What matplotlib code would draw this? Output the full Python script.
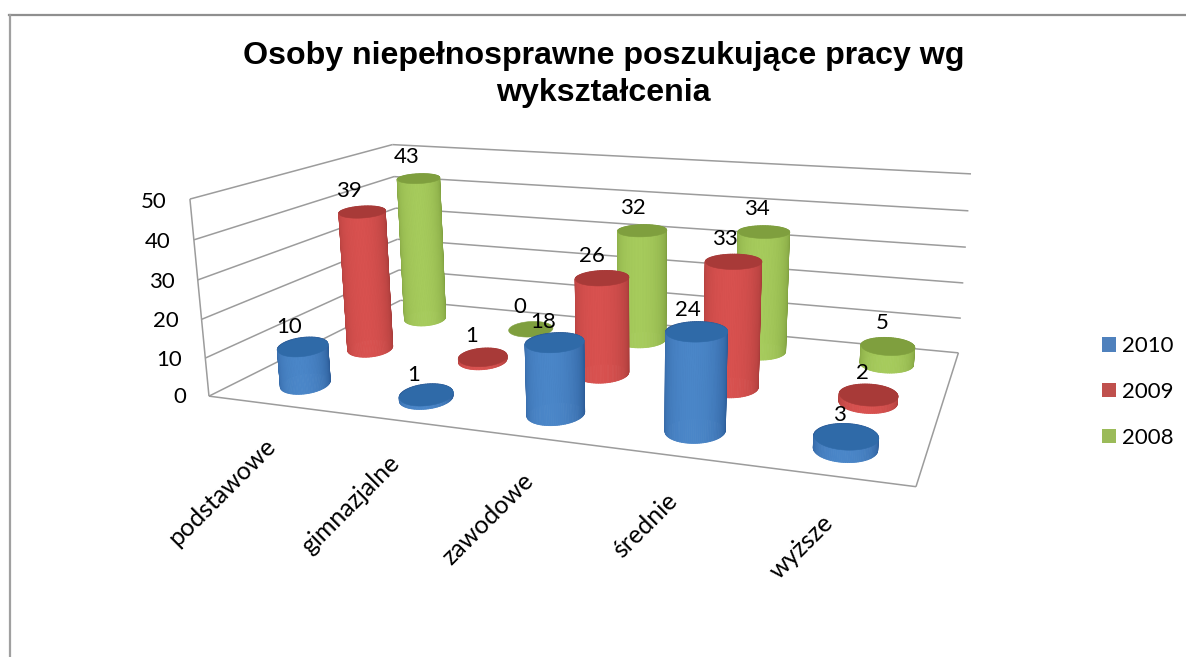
import numpy as np
import matplotlib
matplotlib.use("Agg")
import matplotlib.pyplot as plt
from matplotlib.lines import Line2D
from matplotlib.patches import Patch
from mpl_toolkits.mplot3d.art3d import Poly3DCollection, Line3DCollection

categories = ["podstawowe", "gimnazjalne", "zawodowe", "średnie", "wyższe"]
series_names = ["2010", "2009", "2008"]
values_2010 = [10, 1, 18, 24, 3]
values_2009 = [39, 1, 26, 33, 2]
values_2008 = [43, 0, 32, 34, 5]
value_ticks = [0, 10, 20, 30, 40, 50]
title = "Osoby niepełnosprawne poszukujące pracy wg\nwykształcenia"

W, H = 1186, 657
BODY = ["Lato", "DejaVu Sans"]
FS = 16
RY = 0.25

# Camera fitted to the corners of the plot box: (x, depth, value) -> pixel
world = [(0, 0, 0), (0, 0, 50), (0, 3, 0), (0, 3, 50), (5, 3, 0), (5, 3, 50), (5, 0, 0)]
pixel = [(206.7, 395.7), (192.3, 199), (403, 301), (390, 144.3),
         (957.7, 352), (971.7, 174.3), (916, 487.3)]
rows, rhs = [], []
for (X, Y, Z), (u, v) in zip(world, pixel):
    v = H - v
    rows.append([X, Y, Z, 1, 0, 0, 0, 0, -u * X, -u * Y, -u * Z]); rhs.append(u)
    rows.append([0, 0, 0, 0, X, Y, Z, 1, -v * X, -v * Y, -v * Z]); rhs.append(v)
sol = np.linalg.lstsq(np.array(rows), np.array(rhs), rcond=None)[0]
P1, P2, P3 = sol[:4], sol[4:8], np.append(sol[8:], 1.0)

fig = plt.figure(figsize=(W / 100, H / 100), dpi=100, facecolor="white")
ax = fig.add_axes([0, 0, 1, 1], projection="3d", computed_zorder=False)
ax.set_axis_off()
ax.apply_aspect = lambda position=None: None


def camera():
    inv = ax.transData.inverted()
    a, b = inv.transform([(0, 0), (1, 1)])
    s = b - a
    return np.array([s[0] * P1 + a[0] * P3, s[1] * P2 + a[1] * P3, [0, 0.1, 0, 0], P3])


ax.get_proj = camera


def label(x, y, z, text, **kw):
    q = camera() @ np.array([x, y, z, 1.0])
    ax.text2D(q[0] / q[3], q[1] / q[3], text, family=BODY, color="black", zorder=10, **kw)


# Walls and floor
GRID = "#9c9c9c"
segments = []
for v in value_ticks:
    segments.append([(0, 0, v), (0, 3, v)])
    segments.append([(0, 3, v), (5, 3, v)])
segments.append([(0, 0, 0), (0, 0, 50)])
segments.append([(0, 0, 0), (5, 0, 0)])
segments.append([(5, 0, 0), (5, 3, 0)])
ax.add_collection3d(Line3DCollection(segments, colors=GRID, linewidths=1.1, zorder=1))

styles = {
    "2010": ("#4F81BD", "#4a86c8", "#2c5c98", "#2f6aa8"),
    "2009": ("#C0504D", "#d8514f", "#a83c3a", "#a83a38"),
    "2008": ("#9BBB59", "#a6cb5c", "#7f9f3f", "#7f9f3e"),
}
angles = np.linspace(0, 2 * np.pi, 97)


def cylinder(x, y, h, centre, edge, cap, z):
    centre = np.array(matplotlib.colors.to_rgb(centre))
    edge = np.array(matplotlib.colors.to_rgb(edge))
    a = 0.18 + 0.005 * x
    m = -0.02 * np.clip(2.5 - x, 0, 2)
    t0 = np.radians(-68 - 3.5 * x)
    cx = x + a * np.cos(angles) + m * np.sin(angles)
    cy = y + RY * np.sin(angles)
    if h > 0:
        quads, cols = [], []
        for i in range(96):
            quads.append([(cx[i], cy[i], 0), (cx[i + 1], cy[i + 1], 0),
                          (cx[i + 1], cy[i + 1], h), (cx[i], cy[i], h)])
            f = max(0.0, np.cos((angles[i] + angles[i + 1]) / 2 - t0)) ** 0.8
            cols.append(edge + (centre - edge) * f)
        side = Poly3DCollection(quads, facecolors=cols, edgecolors=cols, linewidths=0.6,
                                joinstyle="round", zorder=z)
        side.set_snap(False)
        ax.add_collection3d(side)
    top = Poly3DCollection([list(zip(cx, cy, np.full(97, h)))], facecolors=cap,
                           edgecolors=cap, linewidths=0.4, zorder=z + 0.1)
    top.set_snap(False)
    ax.add_collection3d(top)


all_values = [values_2010, values_2009, values_2008]
for k in (2, 1, 0):
    for i, val in enumerate(all_values[k]):
        s = styles[series_names[k]]
        cylinder(i + 0.5, k + 0.5, val, s[1], s[2], s[3], 2 + (2 - k) + i * 0.1)

label_lift = [4.8, 5.5, 6.2]
for k in range(3):
    for i, val in enumerate(all_values[k]):
        x = i + 0.5
        label(x - 0.115 + 0.015 * x, k + 0.5, val + label_lift[k], str(val), fontsize=FS,
              ha="center", va="center")

for v in value_ticks:
    label(-0.2, 0, v - 1.1, str(v), fontsize=FS, ha="right", va="center")

for i, c in enumerate(categories):
    label(i + 0.5 - 0.06, 0, -8.2, c, fontsize=18, rotation=45,
          ha="right", va="top", rotation_mode="anchor")

handles = [Patch(facecolor=styles[n][0], edgecolor="none", label=n) for n in series_names]
ax.legend(handles=handles, loc="center left", bbox_to_anchor=(1095 / W, 1 - 392 / H),
          bbox_transform=fig.transFigure, frameon=False, prop={"family": BODY, "size": FS},
          handlelength=0.63, handleheight=0.63, handletextpad=0.3, labelspacing=1.16,
          borderpad=0, borderaxespad=0.3)

fig.text(603.5 / W, 1 - 74.5 / H, title, fontsize=23.1, fontweight="bold", family="Liberation Sans",
         ha="center", va="center", linespacing=1.3, color="black")

fig.add_artist(Line2D([9 / W, 1], [1 - 15 / H, 1 - 15 / H], color="#8f8f8f", lw=1.6,
                      transform=fig.transFigure))
fig.add_artist(Line2D([9.5 / W, 9.5 / W], [0, 1 - 15 / H], color="#a0a0a0", lw=1.6,
                      transform=fig.transFigure))

fig.savefig("out.png", dpi=100)
